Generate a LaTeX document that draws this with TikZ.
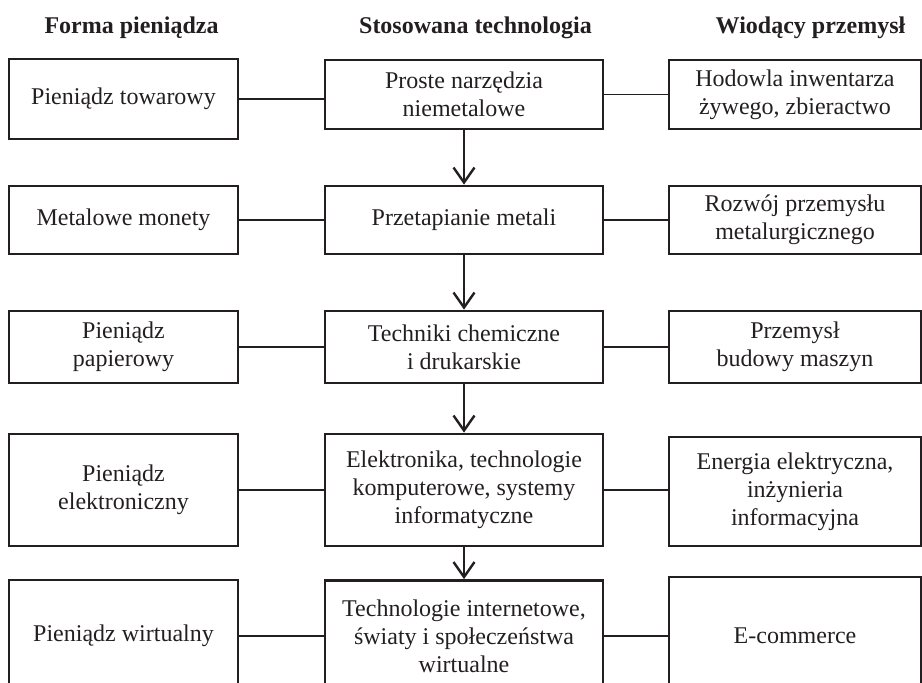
\documentclass[tikz,border=0pt]{standalone}
\usepackage{fontspec}
\setmainfont{Liberation Serif}
\usetikzlibrary{arrows.meta}
\definecolor{ink}{RGB}{35,31,32}
\begin{document}
\begin{tikzpicture}[x=1pt,y=-1pt,
  box/.style={draw=ink,text=ink,line width=2.8pt,align=center,inner sep=0pt,font=\fontsize{24}{28}\selectfont},
  hdr/.style={text=ink,anchor=base,inner sep=0pt,font=\bfseries\fontsize{24}{28}\selectfont},
  conn/.style={draw=ink,line width=1.7pt},
  arr/.style={draw=ink,line width=2.4pt,-{Straight Barb[length=15pt,width=21pt,line width=2.4pt]}}]
\useasboundingbox (0,0) rectangle (922,683);
\clip (0,0) rectangle (922,683);
% headers
\node[hdr] (h1) at (131.5,33) {Forma pieniądza};
\node[hdr] (h2) at (475.5,33) {Stosowana technologia};
\node[hdr] (h3) at (810.5,33) {Wiodący przemysł};
% row 1
\node[box,minimum width=229pt,minimum height=80pt] (L1) at (123.5,99) {Pieniądz towarowy};
\node[box,minimum width=278pt,minimum height=69pt] (M1) at (464,94.5) {Proste narzędzia\\niemetalowe};
\node[box,minimum width=252pt,minimum height=69pt] (R1) at (795,94.5) {Hodowla inwentarza\\żywego, zbieractwo};
% row 2
\node[box,minimum width=229pt,minimum height=68pt] (L2) at (123.5,220) {Metalowe monety};
\node[box,minimum width=278pt,minimum height=68pt] (M2) at (464,220) {Przetapianie metali};
\node[box,minimum width=252pt,minimum height=68pt] (R2) at (795,220) {Rozwój przemysłu\\metalurgicznego};
% row 3
\node[box,minimum width=229pt,minimum height=72pt] (L3) at (123.5,347) {Pieniądz\\papierowy};
\node[box,minimum width=278pt,minimum height=72pt] (M3) at (464,347) {Techniki chemiczne\\i drukarskie};
\node[box,minimum width=252pt,minimum height=72pt] (R3) at (795,347) {Przemysł\\budowy maszyn};
% row 4
\node[box,minimum width=229pt,minimum height=112pt] (L4) at (123.5,490) {Pieniądz\\elektroniczny};
\node[box,minimum width=278pt,minimum height=112pt] (M4) at (464,490) {Elektronika, technologie\\komputerowe, systemy\\informatyczne};
\node[box,minimum width=252pt,minimum height=109pt] (R4) at (795,491.5) {Energia elektryczna,\\inżynieria\\informacyjna};
% row 5
\node[box,minimum width=229pt,minimum height=112pt] (L5) at (123.5,636) {Pieniądz wirtualny};
\node[box,minimum width=278pt,minimum height=111pt] (M5) at (464,636) {Technologie internetowe,\\światy i społeczeństwa\\wirtualne};
\node[box,minimum width=252pt,minimum height=118pt] (R5) at (795,636) {E-commerce};
% horizontal connectors
\foreach \r in {1,...,5}{
  \draw[conn] (L\r.east) -- (L\r.east -| M\r.west);
  \draw[conn] (M\r.east) -- (M\r.east -| R\r.west);
}
% vertical arrows
\draw[arr] (M1.south) -- (M2.north);
\draw[arr] (M2.south) -- (M3.north);
\draw[arr] (M3.south) -- (M4.north);
\draw[arr] (M4.south) -- (M5.north);
\end{tikzpicture}
\end{document}
